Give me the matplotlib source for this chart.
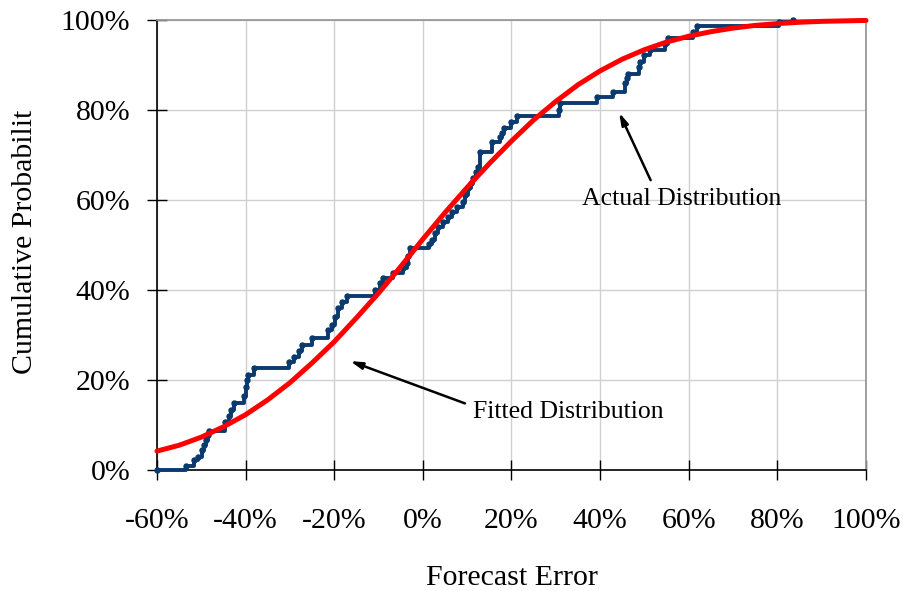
import matplotlib.pyplot as plt

# fitted distribution, every 5%
fit_x = [-60, -55, -50, -45, -40, -35, -30, -25, -20, -15, -10, -5, 0, 5, 10, 15,
         20, 25, 30, 35, 40, 45, 50, 55, 60, 65, 70, 75, 80, 85, 90, 95, 100]
fit_y = [4.2, 5.5, 7.3, 9.6, 12.3, 15.6, 19.4, 23.8, 28.5, 33.8, 39.3, 45.2, 51.3,
         57.2, 62.8, 68.1, 73.1, 77.8, 81.9, 85.6, 88.7, 91.3, 93.4, 95.1, 96.4,
         97.4, 98.2, 98.8, 99.2, 99.5, 99.7, 99.8, 99.9]

# actual distribution (step corners): forecast error and cumulative probability
act_x = [-60, -53.5, -51.6, -50.7, -49.8, -49.3, -48.9, -48.5, -48.2, -44.6, -43.8,
         -43.2, -42.6, -40.3, -40.0, -39.7, -39.5, -38.0, -30.2, -29.0, -28.0, -27.3,
         -25.1, -21.4, -20.6, -19.8, -19.2, -18.3, -17.2, -10.8, -9.7, -9.0, -6.7,
         -4.4, -3.6, -3.3, -2.9, 1.4, 2.0, 2.7, 3.5, 4.6, 5.7, 6.5, 7.6, 9.1, 9.5,
         10.2, 10.8, 11.3, 11.9, 12.5, 12.9, 15.5, 17.3, 17.8, 18.2, 20.0, 21.2,
         30.7, 31.0, 39.2, 43.0, 45.6, 46.0, 46.3, 48.7, 49.0, 49.8, 51.3, 54.7,
         55.4, 61.0, 61.9, 80.3, 83.5]
act_y = [0, 0.9, 2.2, 3.0, 4.4, 5.6, 6.7, 7.8, 8.7, 10.7, 12.0, 13.3, 14.9, 16.5,
         18.5, 20.0, 21.1, 22.7, 24.1, 25.2, 26.5, 27.8, 29.3, 31.1, 32.2, 34.1,
         36.0, 37.4, 38.7, 40.0, 41.5, 42.7, 43.7, 44.8, 45.9, 47.6, 49.3, 50.2,
         51.1, 52.6, 54.1, 55.2, 56.3, 57.4, 58.5, 59.6, 61.1, 62.6, 63.7, 65.0,
         66.3, 67.4, 70.7, 72.9, 74.0, 75.0, 75.9, 77.4, 78.7, 80.1, 81.5, 83.0,
         84.1, 86.0, 87.1, 88.1, 89.5, 90.7, 92.2, 93.3, 94.6, 95.9, 97.3, 98.7,
         99.6, 100.0]

x_ticks = [-60, -40, -20, 0, 20, 40, 60, 80, 100]
y_ticks = [0, 20, 40, 60, 80, 100]

plt.rcParams['font.family'] = ['Liberation Serif', 'DejaVu Serif']

fig = plt.figure(figsize=(9.04, 5.91), dpi=100)
ax = fig.add_axes([157 / 904, 1 - 470 / 591, 709 / 904, 450 / 591])

ax.step(act_x, act_y, where="post", color="#0B3A6E", lw=2.8, zorder=3, clip_on=False)
ax.plot(act_x, act_y, linestyle="none", marker="o", ms=3.6, color="#0B3A6E", zorder=3,
        clip_on=False)
ax.plot(fit_x, fit_y, color="#FF0000", lw=3.6, zorder=4, clip_on=False,
        solid_capstyle="round")

ax.set_xlim(-60, 100)
ax.set_ylim(0, 100)
ax.set_xticks(x_ticks)
ax.set_xticklabels([f"{v}%" for v in x_ticks])
ax.set_yticks(y_ticks)
ax.set_yticklabels([f"{v}%" for v in y_ticks])
ax.tick_params(axis="x", direction="inout", length=14.4, width=1, labelsize=21.5, pad=20)
ax.tick_params(axis="y", direction="inout", length=14.4, width=1, labelsize=21.5, pad=12)

ax.grid(True, color="#D0D0D0", lw=1)
ax.set_axisbelow(True)
for side in ("top", "right"):
    ax.spines[side].set_color("#999999")
    ax.spines[side].set_linewidth(1.3)
for side in ("left", "bottom"):
    ax.spines[side].set_color("black")
    ax.spines[side].set_linewidth(1.2)

ax.set_xlabel("Forecast Error", fontsize=21.5, va="center")
ax.xaxis.set_label_coords(0.5, -0.24)
ax.set_ylabel("Cumulative Probabilit", fontsize=21.5, va="center")
ax.yaxis.set_label_coords(-0.186, 0.507)

arrow = dict(arrowstyle="-|>,head_length=0.7,head_width=0.2", color="black", lw=1.8,
             shrinkA=0, shrinkB=0)
ax.annotate("", xy=(-16.4, 24.2), xytext=(9.5, 14.8), arrowprops=arrow)
ax.text(11.2, 12.9, "Fitted Distribution", fontsize=18.5, ha="left", va="center")
ax.annotate("", xy=(44.3, 79.4), xytext=(51.4, 64.4), arrowprops=arrow)
ax.text(58.5, 60.2, "Actual Distribution", fontsize=18.5, ha="center", va="center")

fig.savefig("out.png", dpi=100)
